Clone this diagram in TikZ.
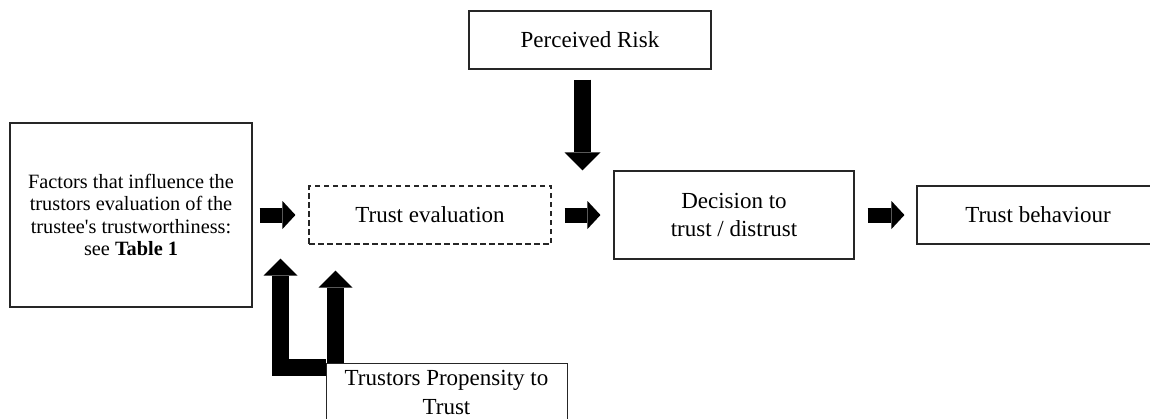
\documentclass[tikz,border=0pt]{standalone}
\usepackage{fontspec}
\setmainfont{Liberation Serif}
\usetikzlibrary{arrows.meta,calc}

\begin{document}
\begin{tikzpicture}[x=1pt,y=-1pt,
  frame/.style={draw=black!85,line width=1.1pt,inner sep=0pt,align=center,
    minimum width=242pt,minimum height=58pt,font=\fontsize{23}{27.5}\selectfont},
  dashedframe/.style={frame,dash pattern=on 5.5pt off 3.5pt},
  plain/.style={inner sep=0pt,align=center,font=\fontsize{23}{29}\selectfont},
  blockright/.style={draw=black,line width=15pt,line cap=butt,
    -{Triangle[width=28pt,length=13pt,line width=0pt]}},
  blockdown/.style={draw=black,line width=17pt,line cap=butt,
    -{Triangle[width=36pt,length=18pt,line width=0pt]}},
  blockup/.style={draw=black,line width=17pt,line cap=butt,line join=miter,
    -{Triangle[width=34pt,length=17pt,line width=0pt]}}
]
\useasboundingbox (0,0) rectangle (1150,418);
\clip (0,0) rectangle (1150,418);

% boxes
\node[frame,minimum height=184pt,font=\fontsize{20.3}{22.5}\selectfont] (fac) at (131,215)
  {Factors that influence the\\trustors evaluation of the\\trustee\textquotesingle s trustworthiness:\\see \textbf{Table 1}};
\node[dashedframe] (eval) at (430,215) {Trust evaluation};
\node[frame] (risk) at (590,40) {Perceived Risk};
\node[frame,minimum width=240pt,minimum height=88pt] (dec) at (734,215) {Decision to\\trust / distrust};
\node[frame] (beh) at (1038,215) {Trust behaviour};
\node[frame,minimum width=241pt,minimum height=72pt,anchor=north west] (trust) at (326,363) {};
\node[plain] (trusttext) at (446.5,392.5) {Trustors Propensity to\\Trust};

% horizontal flow arrows
\draw[blockright] ([xshift=7pt]fac.east) -- ([xshift=-13pt]eval.west);
\draw[blockright] ([xshift=13pt]eval.east) -- ([xshift=-13pt]dec.west);
\draw[blockright] ([xshift=13pt]dec.east) -- ([xshift=-12pt]beh.west);

% perceived risk acts on the step between evaluation and decision
\coordinate (gap) at ($(eval.east)!0.5!(dec.west)$);
\coordinate (rs) at ([yshift=-10pt]risk.south);
\draw[blockdown] (rs -| gap) -- (gap |- dec.north);

% propensity to trust feeds both the factors and the evaluation
\coordinate (lt) at ($(fac.east |- eval.south)+(28,14)$);
\draw[blockup] ([yshift=-4.5pt]trust.north west) -| (lt);
\coordinate (ut) at ($(trust.north west)+(9.5,0)$);
\draw[blockup] (ut) -- ($(ut |- eval.south)+(0,26)$);
\end{tikzpicture}
\end{document}
